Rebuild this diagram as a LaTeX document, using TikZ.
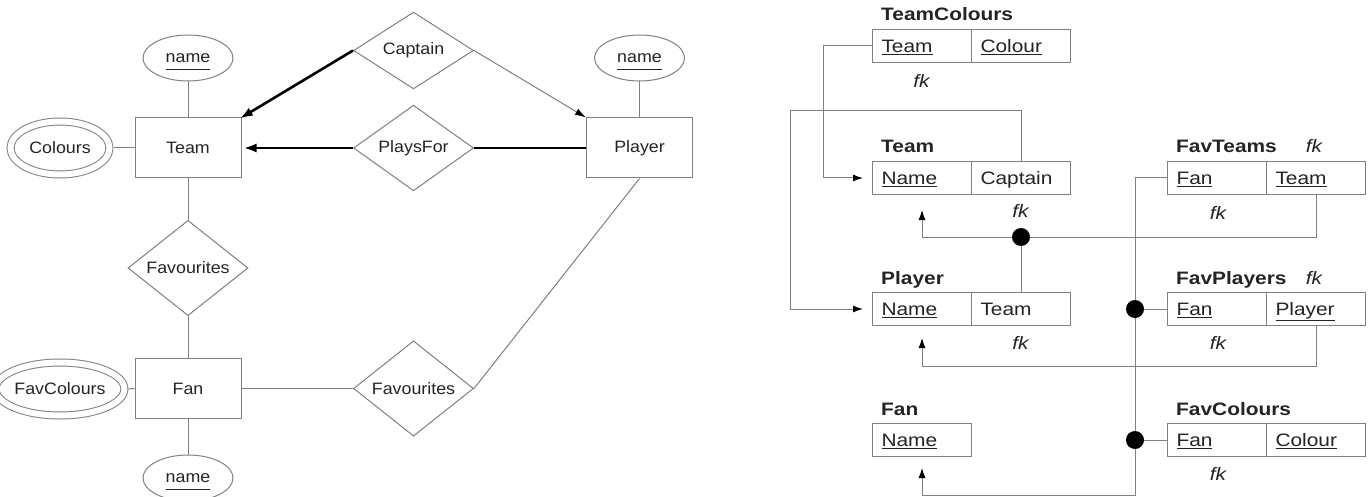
\documentclass[tikz,border=0pt]{standalone}
\usepackage{fontspec}
\usetikzlibrary{shapes.geometric,arrows.meta,calc}
\newfontfamily\erfamily[FakeStretch=1.08]{Liberation Sans}
\newfontfamily\tbfamily[FakeStretch=1.16]{Liberation Sans}
\newcommand{\erfont}{\erfamily\fontsize{16.5}{20}\selectfont}
\newcommand{\tbfont}{\tbfamily\fontsize{18}{22}\selectfont}
% key attribute underline, set a little below the baseline
\newcommand{\erkey}[1]{\underline{#1\rule[-5pt]{0pt}{1pt}}}
\definecolor{lgray}{gray}{0.5}
\definecolor{ink}{gray}{0.14}

\tikzset{
  every node/.style={text=ink},
  ent/.style={rectangle, draw=lgray, line width=1pt, minimum width=106pt,
    minimum height=60pt, inner sep=0pt, font=\erfont},
  attr/.style={ellipse, draw=lgray, line width=1pt, minimum width=90pt,
    minimum height=46pt, inner sep=0pt, font=\erfont, text depth=0pt},
  mattr/.style={ellipse, draw=lgray, line width=1pt, double=white,
    double distance=6pt, minimum width=99pt, minimum height=53pt,
    inner sep=0pt, outer sep=4pt, font=\erfont},
  rel/.style={diamond, draw=lgray, line width=1pt, minimum width=120pt,
    minimum height=76pt, inner sep=0pt, font=\erfont},
  erline/.style={draw=lgray, line width=1pt},
  bold line/.style={draw=black, line width=2.6pt},
  cell/.style={rectangle, draw=lgray, line width=1pt, minimum width=99pt,
    minimum height=33pt, text width=81pt, inner xsep=9pt, inner ysep=0pt,
    align=left, font=\tbfont, text height=13pt, text depth=0pt,
    anchor=north west},
  ttl/.style={font=\tbfont\bfseries, anchor=base west, inner sep=0pt},
  fk/.style={font=\tbfont\itshape, anchor=base, inner sep=0pt},
  link/.style={draw=lgray, line width=1pt},
  fkarrow/.style={link, -{Latex[length=10pt,width=7pt,color=black,fill=black]}},
  dot/.style={circle, fill=black, minimum size=18pt, inner sep=0pt},
}

\begin{document}
\begin{tikzpicture}[x=1pt,y=-1pt]
\fill[white] (0,0) rectangle (1370,497);
\useasboundingbox (0,0) rectangle (1370,497);

% ---------------- ER diagram ----------------
\node[attr]  (tname)    at (188,58)      {\erkey{name}};
\node[ent]   (team)     at (188,148)     {Team};
\node[mattr] (colours)  at (60,148)      {Colours};
\node[rel]   (captain)  at (413.5,50.5)  {Captain};
\node[rel]   (playsfor) at (413.5,148)   {PlaysFor};
\node[attr]  (pname)    at (639.5,58)    {\erkey{name}};
\node[ent]   (player)   at (639.5,148)   {Player};
\node[rel]   (fav1)     at (188,268)     {Favourites};
\node[ent]   (fan)      at (188,388.5)   {Fan};
\node[mattr] (favcol)   at (60,389)      {FavColours};
\node[attr]  (fname)    at (188,478)     {\erkey{name}};
\node[rel]   (fav2)     at (413.5,388.5) {Favourites};

\draw[erline] (tname) -- (team);
\draw[erline] (colours.east) -- (team.west);
\draw[erline] (team) -- (fav1);
\draw[erline] (fav1) -- (fan);
\draw[erline] (fan) -- (fname);
\draw[erline] (favcol.east) -- (fan.west);
\draw[erline] (fan.east) -- (fav2.west);
\draw[erline] (fav2.east) -- (player.south);
\draw[erline] (pname) -- (player);
\draw[bold line, -{Latex[length=13pt,width=9pt]}, shorten >=-2pt]
  (captain.west) -- (team.north east);
\draw[erline, -{Latex[length=11pt,width=7pt,color=black]}]
  (captain.east) -- (player.north west);
\draw[bold line, -{Latex[length=13pt,width=9pt]}, shorten >=2pt]
  (playsfor.west) -- (team.east);
\draw[bold line] (playsfor.east) -- (player.west);

% ---------------- relational schema ----------------
% TeamColours
\node[ttl] (tcT) at (881,21) {TeamColours};
\node[cell] (tcA) at (872,29)  {\underline{Team}};
\node[cell] (tcB) at (971,29)  {\underline{Colour}};
\node[fk] (tcK) at (921.5,88) {fk};
% Team
\node[ttl] (tT) at (881,153) {Team};
\node[cell] (tName) at (872,161) {\underline{Name}};
\node[cell] (tCap)  at (971,161) {Captain};
\node[fk] (tK) at (1020.5,218) {fk};
% Player
\node[ttl] (pT) at (881,284) {Player};
\node[cell] (pName) at (872,292) {\underline{Name}};
\node[cell] (pTeam) at (971,292) {Team};
\node[fk] (pK) at (1020.5,349) {fk};
% Fan
\node[ttl] (fT) at (881,415) {Fan};
\node[cell] (fName) at (872,423) {\underline{Name}};
% FavTeams
\node[ttl] (ftT) at (1176,153) {FavTeams};
\node[fk] (ftK1) at (1314,153) {fk};
\node[cell] (ftA) at (1167,161) {\underline{Fan}};
\node[cell] (ftB) at (1266,161) {\underline{Team}};
\node[fk] (ftK2) at (1218,219) {fk};
% FavPlayers
\node[ttl] (fpT) at (1176,284) {FavPlayers};
\node[fk] (fpK1) at (1314,284) {fk};
\node[cell] (fpA) at (1167,292) {\underline{Fan}};
\node[cell] (fpB) at (1266,292) {\underline{Player}};
\node[fk] (fpK2) at (1218,349) {fk};
% FavColours
\node[ttl] (fcT) at (1176,415) {FavColours};
\node[cell] (fcA) at (1167,423) {\underline{Fan}};
\node[cell] (fcB) at (1266,423) {\underline{Colour}};
\node[fk] (fcK) at (1218,480) {fk};

% foreign key links
\draw[fkarrow, shorten >=9pt] (tcA.west) -- ++(-49,0) |- (tName.west);
\draw[fkarrow, shorten >=9pt]
  (tCap.north) -- ++(0,-50) -| ([xshift=-82pt]pName.west) -- (pName.west);
\draw[fkarrow, shorten >=15pt] (ftB.south) -- ++(0,42) coordinate (h1) -| (tName.south);
\node[dot] (d1) at (tCap.south |- h1) {};
\draw[link] (d1) -- (pTeam.north);
\draw[fkarrow, shorten >=12pt] (fpB.south) -- ++(0,40) -| (pName.south);
\coordinate (bot) at (0,495);
\draw[fkarrow, shorten >=11pt]
  (ftA.west) -- ++(-32,0) coordinate (v0) -- (v0 |- bot) -| (fName.south);
\node[dot] (d2) at (v0 |- fpA.west) {};
\draw[link] (d2) -- (fpA.west);
\node[dot] (d3) at (v0 |- fcA.west) {};
\draw[link] (d3) -- (fcA.west);
\end{tikzpicture}
\end{document}
